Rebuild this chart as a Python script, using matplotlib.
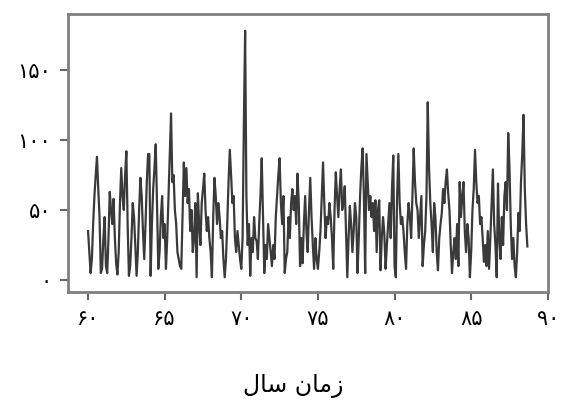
import numpy as np
import matplotlib
matplotlib.use("Agg")
import matplotlib.pyplot as plt

# monthly values, one row per year (60 .. 88)
start_year = 60
y60 = [35, 20, 5, 15, 40, 60, 75, 88, 65, 45, 5, 8]
y61 = [30, 45, 10, 5, 30, 63, 50, 40, 58, 30, 12, 4]
y62 = [20, 55, 80, 60, 50, 75, 92, 40, 3, 10, 30, 55]
y63 = [45, 25, 3, 20, 50, 73, 60, 35, 15, 40, 70, 90]
y64 = [90, 3, 40, 65, 80, 97, 55, 8, 20, 45, 60, 30]
y65 = [40, 8, 30, 60, 90, 119, 70, 75, 50, 40, 20, 15]
y66 = [10, 8, 45, 84, 60, 80, 55, 65, 35, 50, 20, 30]
y67 = [55, 2, 62, 40, 25, 55, 65, 76, 50, 35, 45, 30]
y68 = [20, 2, 45, 73, 60, 40, 55, 45, 30, 35, 15, 2]
y69 = [15, 40, 70, 93, 75, 55, 60, 30, 20, 35, 25, 15]
y70 = [8, 30, 110, 178, 60, 25, 40, 3, 30, 20, 45, 30]
y71 = [28, 15, 40, 60, 87, 45, 5, 25, 15, 40, 30, 20]
y72 = [10, 25, 15, 45, 60, 75, 87, 55, 40, 60, 5, 15]
y73 = [20, 45, 30, 55, 65, 50, 60, 40, 76, 55, 10, 30]
y74 = [12, 40, 60, 35, 20, 50, 73, 45, 25, 8, 30, 15]
y75 = [8, 20, 35, 60, 84, 55, 30, 45, 40, 55, 45, 30]
y76 = [8, 50, 77, 60, 45, 65, 79, 50, 55, 67, 35, 2]
y77 = [30, 53, 40, 20, 35, 55, 45, 5, 30, 60, 80, 94]
y78 = [60, 5, 90, 70, 50, 60, 45, 55, 35, 57, 20, 50]
y79 = [57, 7, 30, 45, 33, 8, 25, 40, 55, 30, 65, 89]
y80 = [10, 2, 60, 90, 55, 40, 45, 35, 20, 8, 40, 55]
y81 = [45, 30, 60, 94, 70, 55, 50, 30, 45, 60, 10, 25]
y82 = [35, 60, 127, 80, 55, 40, 20, 55, 45, 20, 7, 30]
y83 = [40, 48, 65, 55, 70, 79, 62, 50, 25, 5, 20, 30]
y84 = [15, 40, 10, 70, 45, 60, 70, 35, 20, 40, 30, 2]
y85 = [20, 50, 65, 93, 70, 55, 60, 40, 45, 30, 13, 25]
y86 = [10, 35, 8, 30, 55, 79, 40, 25, 2, 69, 30, 15]
y87 = [45, 25, 60, 70, 50, 105, 80, 40, 15, 30, 10, 2]
y88 = [20, 48, 35, 70, 90, 118, 65, 40, 24]

x_ticks = [60, 65, 70, 75, 80, 85, 90]
x_labels = ["۶۰", "۶۵", "۷۰", "۷۵", "۸۰", "۸۵", "۹۰"]
y_ticks = [0, 50, 100, 150]
y_labels = ["۰", "۵۰", "۱۰۰", "۱۵۰"]
# "زمان سال" in presentation forms, visual order
x_title = "\uFEDD\uFE8E\uFEB3 \uFEE5\uFE8E\uFEE3\uFEAF"

values = np.array(y60 + y61 + y62 + y63 + y64 + y65 + y66 + y67 + y68 + y69 +
                  y70 + y71 + y72 + y73 + y74 + y75 + y76 + y77 + y78 + y79 +
                  y80 + y81 + y82 + y83 + y84 + y85 + y86 + y87 + y88, dtype=float)
t = start_year + np.arange(len(values)) / 12.0

plt.rcParams['font.family'] = ['DejaVu Sans']

fig = plt.figure(figsize=(5.63, 4.12), dpi=100)
ax = fig.add_axes([0.121, 0.291, 0.852, 0.675])
ax.plot(t, values, color="#3a3a3a", lw=1.6)

ax.set_xlim(58.7, 90)
ax.set_ylim(-8.6, 190)
ax.set_xticks(x_ticks)
ax.set_xticklabels(x_labels, fontsize=15)
ax.set_yticks(y_ticks)
ax.set_yticklabels(y_labels, fontsize=15)
ax.tick_params(direction="out", length=6, width=1.5, color="#666666", pad=6)
for s in ax.spines.values():
    s.set_color("#808080")
    s.set_linewidth(2)

fig.text(0.52, 0.062, x_title, fontsize=17, ha="center", va="center")

plt.savefig("out.png", dpi=100)
plt.close()
